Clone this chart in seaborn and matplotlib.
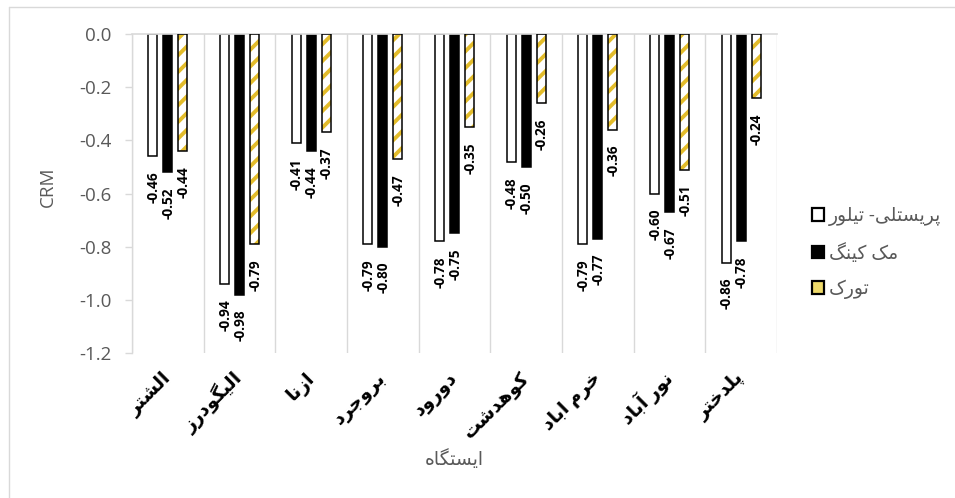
import matplotlib
matplotlib.use("Agg")
import matplotlib.pyplot as plt
import seaborn as sns
import pandas as pd
import numpy as np
from matplotlib.patches import Patch, Rectangle
from matplotlib.lines import Line2D
from matplotlib.ticker import FixedLocator, StrMethodFormatter

# ---- data -------------------------------------------------------------
stations = ["الشتر", "الیگودرز", "ازنا", "بروجرد", "دورود",
            "کوهدشت", "خرم اباد", "نور آباد", "پلدختر"]
methods = ["پریستلی- تیلور", "مک کینگ", "تورک"]
priestley_taylor = [-0.46, -0.94, -0.41, -0.79, -0.78, -0.48, -0.79, -0.60, -0.86]
makkink = [-0.52, -0.98, -0.44, -0.80, -0.75, -0.50, -0.77, -0.67, -0.78]
turc = [-0.44, -0.79, -0.37, -0.47, -0.35, -0.26, -0.36, -0.51, -0.24]
y_ticks = [0.0, -0.2, -0.4, -0.6, -0.8, -1.0, -1.2]
x_title = "ایستگاه"
y_title = "CRM"

# ---- minimal Persian shaping (matplotlib draws glyphs left-to-right) ---
_FORMS = {  # isolated, final, initial, medial
    "ا": ("\uFE8D", "\uFE8E", None, None),
    "آ": ("\uFE81", "\uFE82", None, None),
    "ب": ("\uFE8F", "\uFE90", "\uFE91", "\uFE92"),
    "پ": ("\uFB56", "\uFB57", "\uFB58", "\uFB59"),
    "ت": ("\uFE95", "\uFE96", "\uFE97", "\uFE98"),
    "ج": ("\uFE9D", "\uFE9E", "\uFE9F", "\uFEA0"),
    "خ": ("\uFEA5", "\uFEA6", "\uFEA7", "\uFEA8"),
    "د": ("\uFEA9", "\uFEAA", None, None),
    "ر": ("\uFEAD", "\uFEAE", None, None),
    "ز": ("\uFEAF", "\uFEB0", None, None),
    "س": ("\uFEB1", "\uFEB2", "\uFEB3", "\uFEB4"),
    "ش": ("\uFEB5", "\uFEB6", "\uFEB7", "\uFEB8"),
    "ک": ("\uFB8E", "\uFB8F", "\uFB90", "\uFB91"),
    "گ": ("\uFB92", "\uFB93", "\uFB94", "\uFB95"),
    "ل": ("\uFEDD", "\uFEDE", "\uFEDF", "\uFEE0"),
    "م": ("\uFEE1", "\uFEE2", "\uFEE3", "\uFEE4"),
    "ن": ("\uFEE5", "\uFEE6", "\uFEE7", "\uFEE8"),
    "ه": ("\uFEE9", "\uFEEA", "\uFEEB", "\uFEEC"),
    "و": ("\uFEED", "\uFEEE", None, None),
    "ی": ("\uFBFC", "\uFBFD", "\uFBFE", "\uFBFF"),
}


def rtl(text):
    out = []
    for i, ch in enumerate(text):
        if ch not in _FORMS:
            out.append(ch)
            continue
        iso, fin, ini, med = _FORMS[ch]
        prev = text[i - 1] if i > 0 else None
        nxt = text[i + 1] if i + 1 < len(text) else None
        join_prev = prev in _FORMS and _FORMS[prev][2] is not None
        join_next = ini is not None and nxt in _FORMS
        if join_prev and join_next:
            out.append(med)
        elif join_prev:
            out.append(fin)
        elif join_next:
            out.append(ini)
        else:
            out.append(iso)
    return "".join(reversed(out))


# ---- style ------------------------------------------------------------
sns.set_theme(style="white")
plt.rcParams["font.family"] = ["Open Sans", "DejaVu Sans"]
plt.rcParams["axes.unicode_minus"] = False
plt.rcParams["hatch.linewidth"] = 2.8

GRID = "#D9D9D9"
TEXT = "#595959"
GOLD = "#E3BC2B"

df = pd.DataFrame({
    "station": stations * 3,
    "method": [methods[0]] * 9 + [methods[1]] * 9 + [methods[2]] * 9,
    "value": priestley_taylor + makkink + turc,
})

fig = plt.figure(figsize=(9.55, 4.98), dpi=100)
ax = fig.add_axes([132 / 955, 1 - 353 / 498, (777 - 132) / 955, (353 - 34) / 498])

sns.barplot(data=df, x="station", y="value", hue="method",
            order=stations, hue_order=methods,
            palette=["white", "black", "white"], saturation=1,
            width=0.63, edgecolor="black", linewidth=1.1,
            errorbar=None, legend=False, ax=ax)

BAR_W = 0.125
for k, (container, method) in enumerate(zip(ax.containers, methods)):
    for bar, val in zip(container, df.loc[df["method"] == method, "value"]):
        cx = bar.get_x() + bar.get_width() / 2
        bar.set_width(BAR_W)
        bar.set_x(cx - BAR_W / 2)
        if k == 2:
            bar.set_hatch("//")
            bar.set_edgecolor(GOLD)
            bar.set_linewidth(0)
            ax.add_patch(Rectangle((bar.get_x(), bar.get_y()), bar.get_width(),
                                   bar.get_height(), fill=False,
                                   edgecolor="black", linewidth=1.1, zorder=3))
        ax.annotate(f"{val:.2f}", xy=(cx, val), xytext=(0.5, -11),
                    textcoords="offset points", rotation=90,
                    ha="center", va="top", fontsize=9.8, fontweight="bold",
                    color="black")

# axes, ticks and grid
ax.set_xlim(-0.5, len(stations) - 0.5)
ax.set_ylim(-1.2, 0)
ax.yaxis.set_major_locator(FixedLocator(y_ticks))
ax.yaxis.set_major_formatter(StrMethodFormatter("{x:.1f}"))
ax.xaxis.set_minor_locator(FixedLocator(np.arange(-0.5, len(stations), 1)))
ax.grid(False)
ax.grid(True, which="minor", axis="x", color=GRID, linewidth=1)
ax.set_axisbelow(True)
for side in ("bottom", "right"):
    ax.spines[side].set_visible(False)
ax.spines["top"].set_color(GRID)
ax.spines["left"].set_color(GRID)
ax.spines["top"].set_linewidth(1.2)
ax.spines["left"].set_linewidth(1)

ax.tick_params(axis="y", which="major", left=True, length=5, width=1,
               color=GRID, pad=10, labelsize=13.5, labelcolor=TEXT)
ax.tick_params(axis="x", which="both", length=0, bottom=False, top=False)
ax.set_xticks(range(len(stations)))
ax.set_xticklabels([rtl(s) for s in stations], rotation=45, ha="right",
                   va="center", rotation_mode="anchor", fontsize=13.5,
                   fontweight="bold", color="black")
ax.tick_params(axis="x", which="major", pad=16)

ax.set_xlabel(rtl(x_title), fontsize=13.5, color=TEXT)
ax.set_ylabel(y_title, fontsize=13.5, color=TEXT)
ax.xaxis.set_label_coords(0.5, -0.30)
ax.yaxis.set_label_coords(-0.116, 0.52)

# legend
handles = [
    Patch(facecolor="white", edgecolor="black", linewidth=1.6),
    Patch(facecolor="black", edgecolor="black", linewidth=1.6),
    Patch(facecolor="#EFDA6A", edgecolor="black", linewidth=1.6),
]
fig.legend(handles, [rtl(m) for m in methods], loc="center left",
           bbox_to_anchor=(812 / 955, 1 - 253 / 498), frameon=False,
           fontsize=13.5, labelcolor=TEXT, handlelength=0.65,
           handleheight=0.65, handletextpad=0.25, labelspacing=0.9,
           borderpad=0, borderaxespad=0)

# chart-area border (top and left edges)
fig.add_artist(Line2D([8.5 / 955, 1], [1 - 7.5 / 498, 1 - 7.5 / 498],
                      transform=fig.transFigure, color=GRID, linewidth=1))
fig.add_artist(Line2D([8.5 / 955, 8.5 / 955], [0, 1 - 7.5 / 498],
                      transform=fig.transFigure, color=GRID, linewidth=1))

fig.savefig("out.png", dpi=100, facecolor="white")
